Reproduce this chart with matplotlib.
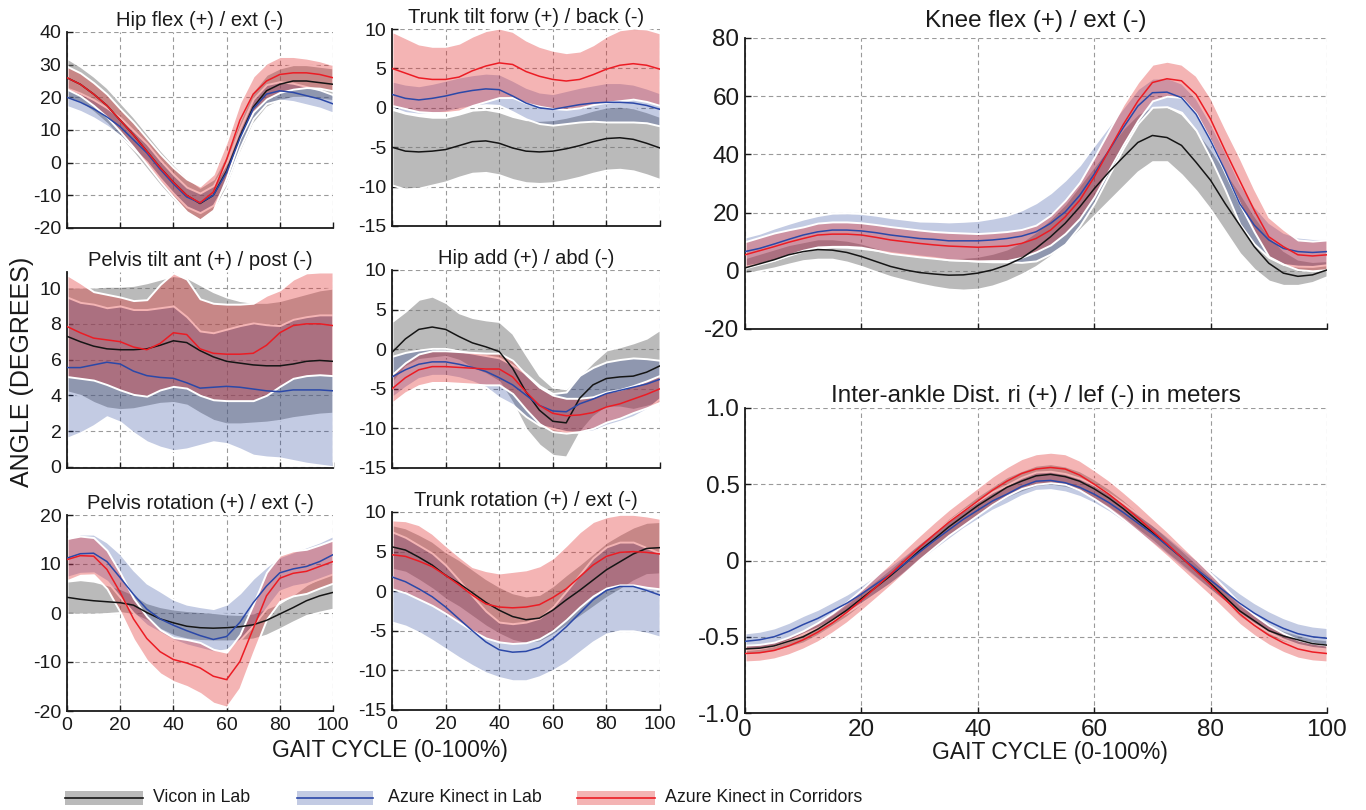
import numpy as np
import matplotlib
matplotlib.use("Agg")
import matplotlib.pyplot as plt
from matplotlib.patches import Rectangle
from matplotlib.lines import Line2D

plt.rcParams['font.family'] = ['Liberation Sans', 'DejaVu Sans']
plt.rcParams['axes.unicode_minus'] = False

# ---------------- data ----------------
gait_pct = np.arange(0, 101, 5)        # left-hand panels, every 5 %
gait_pct_fine = np.arange(0, 100.1, 2.5)  # right-hand panels, every 2.5 %

# Hip flex (+) / ext (-)
hipflex_vicon_mean = [26, 24, 21, 17.5, 13, 8.5, 3.5, -1.5, -6, -10, -12.5, -10, -2.5, 8, 17, 22, 24, 25, 25, 24.5, 24]
hipflex_vicon_sd = [6, 5.5, 5.5, 5.5, 5.5, 5.5, 5.5, 5.5, 5.5, 5.5, 5, 5, 5, 5, 5, 5, 5, 5, 5, 5, 5]
hipflex_lab_mean = [20, 18.5, 16.5, 14, 11, 7, 3, -2, -6.5, -10.5, -12.3, -10, -3, 7.5, 16.5, 21, 22, 21.5, 20.5, 19.5, 18]
hipflex_lab_sd = [2.8, 2.8, 2.8, 2.8, 2.8, 2.8, 2.8, 2.8, 2.9, 3, 3, 3, 3, 3, 3, 2.9, 2.8, 2.8, 2.8, 2.8, 2.8]
hipflex_cor_mean = [26, 24, 21, 17.5, 13, 8.5, 3.5, -1.5, -6, -10, -12.3, -9, 1, 13, 21, 25, 27, 27.5, 27.5, 27, 26]
hipflex_cor_sd = [3.5, 3.5, 3.5, 3.5, 3.5, 3.8, 4, 4.2, 4.5, 5, 5.2, 5.5, 5.5, 5.5, 5.5, 5.5, 5.5, 5, 4.5, 4.2, 4]

# Trunk tilt forw (+) / back (-)
trunktilt_vicon_mean = [-5.0, -5.5, -5.6, -5.5, -5.3, -4.8, -4.3, -4.2, -4.5, -5.1, -5.5, -5.6, -5.5, -5.2, -4.8, -4.3, -3.9, -3.8, -4.0, -4.5, -5.1]
trunktilt_vicon_sd = [4.8, 4.8, 4.6, 4.3, 4.1, 4, 4, 4, 4, 4, 4, 4, 4, 4, 4, 4, 4, 4, 4, 4, 4]
trunktilt_lab_mean = [1.7, 1.2, 1.0, 1.2, 1.5, 1.9, 2.2, 2.4, 2.3, 1.5, 0.6, 0.0, -0.2, 0.1, 0.4, 0.6, 0.7, 0.7, 0.6, 0.3, -0.2]
trunktilt_lab_sd = [1.7, 1.8, 1.8, 1.9, 2, 2, 2, 2, 2, 2, 2, 2, 2, 2.1, 2.2, 2.3, 2.5, 2.5, 2.4, 2.2, 2.1]
trunktilt_cor_mean = [5.0, 4.4, 3.8, 3.6, 3.6, 3.9, 4.7, 5.3, 5.7, 5.5, 4.6, 4.0, 3.6, 3.4, 3.6, 4.2, 4.9, 5.4, 5.6, 5.4, 4.9]
trunktilt_cor_sd = [4.7, 4.5, 4.3, 4.2, 4.2, 4.3, 4.4, 4.5, 4.4, 4.2, 4, 3.8, 3.7, 3.6, 3.6, 3.8, 4.2, 4.5, 4.5, 4.6, 4.6]

# Pelvis tilt ant (+) / post (-)
pelvtilt_vicon_mean = [7.3, 7.0, 6.75, 6.6, 6.55, 6.55, 6.6, 6.8, 7.05, 6.95, 6.5, 6.15, 5.9, 5.8, 5.7, 5.65, 5.65, 5.75, 5.9, 5.95, 5.9]
pelvtilt_vicon_lo = [4.2, 4.0, 3.6, 3.3, 3.2, 3.25, 3.4, 3.55, 3.6, 3.45, 3.0, 2.6, 2.4, 2.4, 2.45, 2.5, 2.6, 2.75, 2.85, 2.95, 3.0]
pelvtilt_vicon_hi = [10.05, 10.05, 10.05, 10.1, 10.1, 10.15, 10.3, 10.5, 10.7, 10.6, 10.2, 9.8, 9.5, 9.3, 9.2, 9.2, 9.3, 9.5, 9.7, 9.9, 10.0]
pelvtilt_lab_mean = [5.55, 5.55, 5.7, 5.85, 5.75, 5.35, 5.1, 5.0, 4.95, 4.7, 4.4, 4.45, 4.5, 4.45, 4.35, 4.25, 4.2, 4.3, 4.3, 4.3, 4.25]
pelvtilt_lab_lo = [1.6, 1.9, 2.3, 2.8, 2.5, 1.9, 1.4, 1.1, 0.9, 1.0, 1.2, 1.4, 1.3, 1.0, 0.65, 0.55, 0.5, 0.35, 0.2, 0.1, 0.0]
pelvtilt_lab_hi = [9.5, 9.2, 9.1, 8.9, 9.0, 8.8, 8.8, 8.9, 9.0, 8.4, 7.6, 7.5, 7.7, 7.9, 8.05, 7.95, 7.9, 8.25, 8.4, 8.5, 8.5]
pelvtilt_cor_mean = [7.85, 7.5, 7.2, 7.1, 7.0, 6.7, 6.55, 6.9, 7.5, 7.4, 6.6, 6.35, 6.3, 6.3, 6.35, 6.8, 7.5, 7.9, 8.0, 8.0, 7.9]
pelvtilt_cor_lo = [5.05, 4.95, 4.85, 4.6, 4.3, 4.05, 3.95, 4.3, 4.5, 4.4, 4.0, 3.75, 3.7, 3.7, 3.7, 4.0, 4.5, 4.95, 5.1, 5.15, 5.1]
pelvtilt_cor_hi = [10.75, 10.3, 9.8, 9.65, 9.5, 9.3, 9.35, 10.2, 10.85, 10.5, 9.4, 9.15, 9.1, 9.1, 9.15, 9.6, 9.9, 10.5, 10.85, 10.9, 10.9]

# Hip add (+) / abd (-)
hipadd_vicon_mean = [-0.4, 1.3, 2.5, 2.8, 2.5, 1.6, 0.8, 0.3, -0.3, -2.4, -5.4, -7.7, -9.1, -9.3, -6.2, -4.5, -3.7, -3.5, -3.4, -2.9, -2.1]
hipadd_vicon_lo = [-4.3, -2.2, -1.3, -1.1, -0.9, -1.4, -2.4, -3.1, -4.1, -6.8, -10.1, -12.1, -13.4, -13.6, -10.5, -8.5, -7.3, -7.3, -7.6, -7.2, -6.7]
hipadd_vicon_hi = [3.5, 4.8, 6.3, 6.7, 5.9, 4.6, 4.0, 3.7, 3.5, 2.0, -0.7, -3.3, -4.8, -5.0, -3.3, -1.6, -0.1, 0.3, 0.8, 1.4, 2.5]
hipadd_lab_mean = [-3.5, -2.6, -1.9, -1.6, -1.6, -1.9, -2.3, -2.8, -3.6, -4.5, -5.8, -7.1, -7.8, -7.9, -6.9, -6.3, -5.6, -5.2, -4.8, -4.4, -3.8]
hipadd_lab_lo = [-6.1, -4.8, -3.7, -3.3, -3.3, -3.6, -4.1, -4.8, -6.1, -7.0, -8.5, -9.6, -10.0, -10.4, -10.5, -10.3, -9.6, -9.1, -8.5, -7.6, -6.2]
hipadd_lab_hi = [-0.9, -0.4, -0.1, 0.1, 0.1, -0.2, -0.5, -0.8, -1.1, -2.0, -3.1, -4.6, -5.6, -5.4, -3.3, -2.3, -1.6, -1.3, -1.1, -1.2, -1.4]
hipadd_cor_mean = [-5.0, -3.6, -2.6, -2.2, -2.2, -2.3, -2.4, -2.5, -2.5, -3.5, -5.4, -7.1, -8.1, -8.4, -8.3, -8.0, -7.3, -6.9, -6.3, -5.7, -5.0]
hipadd_cor_sd = [1.8, 1.9, 2.0, 2.0, 2.0, 2.0, 2.0, 2.0, 2.0, 2.1, 2.2, 2.3, 2.3, 2.2, 2.1, 2.0, 1.9, 1.8, 1.7, 1.7, 1.7]

# Pelvis rotation (+) / ext (-)
pelvrot_vicon_mean = [3.2, 2.8, 2.5, 2.3, 2.1, 1.6, 0.1, -1.2, -2.0, -2.7, -3.0, -3.1, -3.0, -2.8, -2.4, -1.5, -0.2, 1.1, 2.5, 3.5, 4.2]
pelvrot_vicon_lo = [-0.2, -0.2, -0.2, -0.1, 0.1, -0.3, -1.5, -3.3, -4.6, -5.3, -5.6, -5.7, -5.7, -5.6, -5.3, -4.5, -3.2, -1.8, -0.5, 0.2, 0.8]
pelvrot_vicon_hi = [6.5, 6.8, 6.5, 5.8, 5.0, 3.8, 2.1, 1.3, 0.8, 0.5, 0.3, 0.1, -0.2, -0.3, 0.0, 1.0, 2.1, 3.8, 5.8, 7.2, 8.3]
pelvrot_lab_mean = [11.2, 12.1, 12.2, 10.5, 7.2, 3.8, 0.8, -1.2, -2.5, -3.6, -4.6, -5.4, -4.8, -1.9, 2.1, 5.5, 8.2, 9.0, 9.5, 10.5, 11.9]
pelvrot_lab_lo = [7.3, 8.1, 8.2, 6.5, 3.2, 0.0, -2.5, -4.0, -5.5, -6.5, -7.2, -7.9, -7.5, -5.5, -2.5, 1.0, 4.5, 5.5, 6.0, 7.0, 8.0]
pelvrot_lab_hi = [15.1, 16.1, 16.1, 14.5, 12.1, 8.8, 6.1, 4.5, 2.8, 1.8, 1.3, 0.9, 1.8, 4.1, 7.1, 9.5, 11.5, 12.5, 13.5, 14.5, 15.8]
pelvrot_cor_mean = [10.9, 11.7, 11.6, 8.9, 4.2, -1.2, -5.2, -7.9, -9.5, -10.2, -11.2, -12.9, -13.6, -9.9, -3.2, 3.5, 7.1, 8.1, 8.5, 9.5, 10.5]
pelvrot_cor_sd = [4.3, 4.0, 3.8, 3.9, 4.0, 4.2, 4.5, 4.5, 4.5, 4.8, 5.2, 5.5, 5.6, 5.5, 5.0, 4.8, 4.7, 4.6, 4.5, 4.4, 4.4]

# Trunk rotation (+) / ext (-)
trunkrot_vicon_mean = [5.6, 5.2, 4.3, 3.3, 2.0, 1.0, -0.2, -1.4, -2.4, -3.2, -3.6, -3.4, -2.4, -1.1, 0.1, 1.4, 2.7, 3.7, 4.7, 5.4, 5.5]
trunkrot_vicon_sd = [2.8, 2.8, 2.9, 3.0, 3.0, 3.0, 3.0, 3.0, 3.0, 3.0, 3.0, 3.0, 3.1, 3.2, 3.3, 3.4, 3.5, 3.5, 3.4, 3.3, 3.3]
trunkrot_lab_mean = [1.8, 1.2, 0.3, -0.7, -2.0, -3.5, -5.0, -6.4, -7.4, -7.7, -7.6, -7.1, -6.0, -4.5, -2.8, -1.1, 0.1, 0.6, 0.6, 0.1, -0.5]
trunkrot_lab_lo = [-3.9, -4.4, -5.2, -6.2, -7.3, -8.4, -9.4, -10.3, -10.9, -11.3, -11.3, -10.8, -10.0, -9.0, -7.7, -6.4, -5.4, -5.0, -5.0, -5.3, -5.8]
trunkrot_lab_hi = [7.5, 6.8, 5.8, 4.8, 3.3, 1.4, -0.6, -2.5, -3.9, -4.1, -3.9, -3.4, -2.0, 0.0, 2.1, 4.2, 5.6, 6.2, 6.2, 5.5, 4.8]
trunkrot_cor_mean = [4.6, 4.4, 3.8, 3.1, 2.0, 0.8, -0.5, -1.6, -2.0, -2.1, -2.0, -1.7, -0.8, 0.3, 1.8, 3.3, 4.4, 4.9, 5.0, 4.9, 4.7]
trunkrot_cor_lo = [0.3, -0.2, -1.0, -1.8, -2.8, -3.9, -5.0, -5.9, -6.4, -6.6, -6.5, -6.0, -5.0, -3.6, -2.0, -0.6, 0.4, 0.8, 0.8, 0.5, 0.3]
trunkrot_cor_hi = [9.0, 8.9, 8.4, 7.3, 5.8, 4.4, 3.1, 2.6, 2.3, 2.5, 2.7, 3.2, 4.2, 5.8, 7.5, 8.8, 9.4, 9.7, 9.7, 9.5, 9.2]

# Knee flex (+) / ext (-)  (every 2.5 %)
knee_vicon_mean = [1.0, 2.4, 3.8, 5.5, 6.6, 7.3, 7.1, 6.3, 4.9, 3.2, 1.5, 0.3, -0.6, -1.1, -1.5, -1.4, -0.8, 0.3, 2.0, 4.3,
                   7.7, 11.7, 16.3, 21.9, 28.2, 33.9, 39.1, 44.1, 46.5, 45.8, 43.1, 37.3, 31.1, 23.1, 15.7, 8.3, 2.6, -0.8,
                   -1.9, -1.4, 0.3]
knee_vicon_lo = [-1.0, 0.0, 1.0, 2.3, 3.5, 4.0, 4.0, 3.0, 1.5, -0.3, -2.0, -3.3, -4.5, -5.5, -6.3, -6.6, -6.3, -5.2, -3.5,
                 -1.2, 1.5, 5.0, 9.0, 14.0, 19.0, 24.0, 29.0, 34.0, 37.5, 37.5, 33.0, 27.5, 21.0, 13.5, 6.0, 0.5, -3.5,
                 -5.0, -5.0, -4.0, -2.0]
knee_vicon_hi = [4.5, 6.0, 7.5, 9.0, 10.0, 11.0, 11.0, 10.5, 9.5, 8.0, 6.5, 5.6, 5.0, 4.7, 4.5, 4.6, 5.0, 6.0, 7.5, 10.0,
                 13.5, 18.0, 23.0, 29.5, 36.0, 42.5, 49.0, 54.0, 56.5, 56.5, 54.0, 48.5, 42.0, 34.5, 27.0, 19.0, 12.0,
                 7.0, 4.0, 3.2, 3.5]
knee_lab_mean = [6.6, 7.7, 9.2, 10.8, 12.3, 13.4, 14.0, 14.0, 13.7, 13.1, 12.3, 11.7, 11.1, 10.8, 10.3, 10.3, 10.3, 10.6,
                 11.1, 11.9, 13.4, 16.3, 20.2, 25.9, 33.2, 41.3, 49.2, 56.6, 61.2, 61.4, 59.5, 53.8, 44.7, 34.4, 23.1,
                 15.7, 10.6, 7.7, 6.6, 6.3, 6.6]
knee_lab_sd = [5, 5.2, 5.5, 5.5, 5.5, 5.6, 5.8, 5.9, 6, 6, 6, 6, 6, 6.2, 6.5, 6.7, 7, 7.5, 8, 9, 10, 10.5, 11, 10.5, 10, 8.5,
               7, 6, 5, 5, 5, 5.5, 6, 6.5, 7, 6.5, 6, 5.5, 5, 4.8, 4.5]
knee_cor_mean = [5.5, 6.9, 8.3, 9.8, 11.1, 12.3, 12.6, 12.6, 12.3, 11.5, 10.6, 10.0, 9.4, 8.9, 8.5, 8.3, 8.1, 8.3, 8.5, 9.4,
                 11.1, 14.0, 18.5, 24.2, 32.2, 41.3, 50.3, 58.3, 64.7, 66.0, 65.3, 60.6, 52.1, 41.3, 31.0, 20.8, 11.7,
                 8.3, 5.5, 5.1, 5.5]
knee_cor_sd = [4.5, 4.6, 4.7, 4.3, 4.0, 4.1, 4.2, 4.2, 4.2, 4.4, 4.6, 4.6, 4.6, 4.6, 4.7, 4.7, 4.7, 4.8, 5, 4.8, 4.6, 5.1,
               5.7, 6.2, 6.8, 6.8, 6.9, 6.6, 6.3, 6.0, 5.7, 6.5, 7.4, 7.7, 8, 7.4, 6.8, 6, 5.1, 5.1, 5.1]

# Inter-ankle distance (m)  (every 2.5 %)
ankle_vicon_mean = [-0.58, -0.575, -0.56, -0.53, -0.50, -0.45, -0.39, -0.325, -0.25, -0.175, -0.10, -0.02, 0.065, 0.14,
                    0.22, 0.29, 0.36, 0.42, 0.48, 0.52, 0.555, 0.565, 0.55, 0.52, 0.47, 0.41, 0.34, 0.26, 0.185, 0.10,
                    0.02, -0.065, -0.15, -0.24, -0.33, -0.395, -0.46, -0.495, -0.52, -0.545, -0.555]
ankle_vicon_sd = [0.035, 0.035, 0.035, 0.038, 0.04, 0.04, 0.04, 0.043, 0.045, 0.048, 0.05, 0.053, 0.055, 0.058, 0.06,
                  0.063, 0.065, 0.068, 0.07, 0.07, 0.07, 0.07, 0.07, 0.068, 0.065, 0.063, 0.06, 0.058, 0.055, 0.053,
                  0.05, 0.048, 0.045, 0.043, 0.04, 0.04, 0.04, 0.038, 0.035, 0.035, 0.035]
ankle_lab_mean = [-0.53, -0.52, -0.50, -0.465, -0.42, -0.38, -0.33, -0.28, -0.22, -0.155, -0.09, -0.02, 0.055, 0.13,
                  0.20, 0.27, 0.33, 0.39, 0.435, 0.485, 0.52, 0.525, 0.51, 0.48, 0.435, 0.38, 0.315, 0.245, 0.175,
                  0.10, 0.02, -0.055, -0.13, -0.205, -0.28, -0.345, -0.40, -0.445, -0.48, -0.50, -0.51]
ankle_lab_sd = [0.055, 0.056, 0.058, 0.059, 0.06, 0.06, 0.06, 0.06, 0.06, 0.06, 0.06, 0.06, 0.06, 0.06, 0.06, 0.06, 0.06,
                0.06, 0.06, 0.06, 0.06, 0.06, 0.06, 0.06, 0.06, 0.06, 0.06, 0.06, 0.06, 0.061, 0.062, 0.063, 0.065,
                0.066, 0.068, 0.069, 0.07, 0.07, 0.07, 0.07, 0.07]
ankle_cor_mean = [-0.61, -0.605, -0.59, -0.56, -0.52, -0.47, -0.41, -0.34, -0.26, -0.175, -0.09, 0.0, 0.087, 0.17, 0.25,
                  0.32, 0.39, 0.46, 0.52, 0.57, 0.60, 0.61, 0.60, 0.56, 0.50, 0.435, 0.36, 0.28, 0.195, 0.11, 0.02,
                  -0.07, -0.16, -0.255, -0.35, -0.425, -0.49, -0.54, -0.58, -0.60, -0.61]
ankle_cor_sd = [0.055, 0.055, 0.055, 0.058, 0.06, 0.063, 0.065, 0.068, 0.07, 0.073, 0.075, 0.078, 0.08, 0.083, 0.085,
                0.088, 0.09, 0.093, 0.095, 0.098, 0.1, 0.1, 0.1, 0.098, 0.095, 0.093, 0.09, 0.088, 0.085, 0.083, 0.08,
                0.078, 0.075, 0.073, 0.07, 0.068, 0.065, 0.063, 0.06, 0.058, 0.055]

series_names = ["Vicon in Lab", "Azure Kinect in Lab", "Azure Kinect in Corridors"]
panel_titles = ["Hip flex (+) / ext (-)", "Trunk tilt forw (+) / back (-)",
                "Pelvis tilt ant (+) / post (-)", "Hip add (+) / abd (-)",
                "Pelvis rotation (+) / ext (-)", "Trunk rotation (+) / ext (-)",
                "Knee flex (+) / ext (-)", "Inter-ankle Dist. ri (+) / lef (-) in meters"]

# ---------------- style ----------------
FILL = [(0.467, 0.467, 0.467, 0.5), (0.063, 0.19, 0.565, 0.25), (0.886, 0.16, 0.16, 0.35)]
LINE = ['#151515', '#2b48a8', '#ec1c24']


def band(mean, sd=None, lo=None, hi=None):
    m = np.asarray(mean, float)
    if sd is not None:
        s = np.asarray(sd, float)
        return m, m - s, m + s
    return m, np.asarray(lo, float), np.asarray(hi, float)


W, H = 1366, 810
fig = plt.figure(figsize=(W / 100, H / 100), dpi=100)


def add_ax(x0, y0, x1, y1):
    return fig.add_axes([x0 / W, 1 - y1 / H, (x1 - x0) / W, (y1 - y0) / H])


def draw(ax, x, bands, ylim, yticks, yticklabels=None, title="", xlabels=False,
         fs=14, tfs=14.5, tpad=4):
    for (m, lo, hi), fc in zip(bands, FILL):
        ax.fill_between(x, lo, hi, facecolor=fc, edgecolor='white', linewidth=1.4, zorder=2)
    for (m, lo, hi), lc in zip(bands, LINE):
        ax.plot(x, m, color=lc, lw=1.1, zorder=3)
    ax.set_xlim(0, 100)
    ax.set_ylim(*ylim)
    ax.set_xticks(np.arange(0, 101, 20))
    ax.set_yticks(yticks)
    if yticklabels is not None:
        ax.set_yticklabels(yticklabels)
    if not xlabels:
        ax.set_xticklabels([])
    ax.grid(True, color='#9a9a9a', linestyle=(0, (4, 3)), linewidth=0.8, zorder=1)
    ax.set_axisbelow(True)
    for s in ['top', 'right']:
        ax.spines[s].set_visible(False)
    for s in ['left', 'bottom']:
        ax.spines[s].set_linewidth(1.3)
        ax.spines[s].set_color('#1a1a1a')
    ax.tick_params(direction='in', length=4, width=1, labelsize=fs, pad=4, colors='#1a1a1a')
    ax.set_title(title, fontsize=tfs, pad=tpad, color='#1a1a1a')


ax1 = add_ax(67, 32, 333, 228)
draw(ax1, gait_pct, [band(hipflex_vicon_mean, hipflex_vicon_sd), band(hipflex_lab_mean, hipflex_lab_sd),
                     band(hipflex_cor_mean, hipflex_cor_sd)], (-20, 40), np.arange(-20, 41, 10),
     title=panel_titles[0])

ax2 = add_ax(392, 29, 660, 226)
draw(ax2, gait_pct, [band(trunktilt_vicon_mean, trunktilt_vicon_sd), band(trunktilt_lab_mean, trunktilt_lab_sd),
                     band(trunktilt_cor_mean, trunktilt_cor_sd)], (-15, 10), np.arange(-15, 11, 5),
     title=panel_titles[1])

ax3 = add_ax(67, 272, 333, 468)
draw(ax3, gait_pct, [band(pelvtilt_vicon_mean, lo=pelvtilt_vicon_lo, hi=pelvtilt_vicon_hi),
                     band(pelvtilt_lab_mean, lo=pelvtilt_lab_lo, hi=pelvtilt_lab_hi),
                     band(pelvtilt_cor_mean, lo=pelvtilt_cor_lo, hi=pelvtilt_cor_hi)],
     (-0.07, 10.9), np.arange(0, 11, 2), title=panel_titles[2])

ax4 = add_ax(392, 270, 660, 468)
draw(ax4, gait_pct, [band(hipadd_vicon_mean, lo=hipadd_vicon_lo, hi=hipadd_vicon_hi),
                     band(hipadd_lab_mean, lo=hipadd_lab_lo, hi=hipadd_lab_hi),
                     band(hipadd_cor_mean, hipadd_cor_sd)], (-15, 10), np.arange(-15, 11, 5),
     title=panel_titles[3])

ax5 = add_ax(67, 515, 333, 711)
draw(ax5, gait_pct, [band(pelvrot_vicon_mean, lo=pelvrot_vicon_lo, hi=pelvrot_vicon_hi),
                     band(pelvrot_lab_mean, lo=pelvrot_lab_lo, hi=pelvrot_lab_hi),
                     band(pelvrot_cor_mean, pelvrot_cor_sd)], (-20, 20), np.arange(-20, 21, 10),
     title=panel_titles[4], xlabels=True)

ax6 = add_ax(392, 512, 660, 710)
draw(ax6, gait_pct, [band(trunkrot_vicon_mean, trunkrot_vicon_sd),
                     band(trunkrot_lab_mean, lo=trunkrot_lab_lo, hi=trunkrot_lab_hi),
                     band(trunkrot_cor_mean, lo=trunkrot_cor_lo, hi=trunkrot_cor_hi)], (-15, 10),
     np.arange(-15, 11, 5), title=panel_titles[5], xlabels=True)

ax7 = add_ax(745, 38, 1327, 329)
draw(ax7, gait_pct_fine, [band(knee_vicon_mean, lo=knee_vicon_lo, hi=knee_vicon_hi),
                          band(knee_lab_mean, knee_lab_sd), band(knee_cor_mean, knee_cor_sd)],
     (-20, 80), np.arange(-20, 81, 20), title=panel_titles[6], fs=17.5, tfs=17.5, tpad=8)

ax8 = add_ax(745, 408, 1327, 713)
draw(ax8, gait_pct_fine, [band(ankle_vicon_mean, ankle_vicon_sd), band(ankle_lab_mean, ankle_lab_sd),
                          band(ankle_cor_mean, ankle_cor_sd)], (-1.0, 1.0), [-1.0, -0.5, 0, 0.5, 1.0],
     yticklabels=["-1.0", "-0.5", "0", "0.5", "1.0"], title=panel_titles[7], xlabels=True,
     fs=17.5, tfs=17.5, tpad=4)

# axis labels
fig.text(22 / W, 1 - 372 / H, "ANGLE (DEGREES)", rotation=90, ha='center', va='center', fontsize=18,
         color='#1a1a1a')
fig.text(390 / W, 1 - 750 / H, "GAIT CYCLE (0-100%)", ha='center', va='center', fontsize=16.5, color='#1a1a1a')
fig.text(1050 / W, 1 - 752 / H, "GAIT CYCLE (0-100%)", ha='center', va='center', fontsize=16.5, color='#1a1a1a')

# legend (manual)
leg_items = [(65, 143, 153), (297, 373, 388), (577, 655, 665)]
ly = 798
for (x0, x1, xt), fc, lc, name in zip(leg_items, FILL, LINE, series_names):
    fig.add_artist(Rectangle((x0 / W, 1 - (ly + 7) / H), (x1 - x0) / W, 14 / H,
                             transform=fig.transFigure, facecolor=fc, edgecolor='none'))
    fig.add_artist(Line2D([x0 / W, x1 / W], [1 - ly / H, 1 - ly / H], transform=fig.transFigure,
                          color=lc, lw=1.2))
    fig.text(xt / W, 1 - ly / H, name, ha='left', va='center', fontsize=12.8, color='#1a1a1a')

fig.savefig("out.png", dpi=100)
